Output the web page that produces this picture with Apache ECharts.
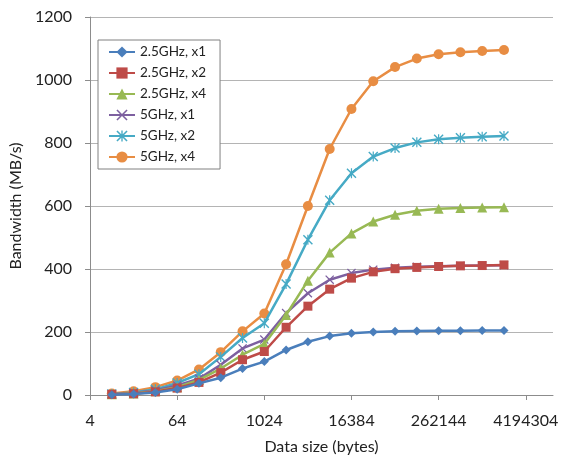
<!DOCTYPE html>
<html>
<head>
<meta charset="utf-8">
<script src="https://cdn.jsdelivr.net/npm/echarts@6/dist/echarts.min.js"></script>
<style>
  html, body { margin: 0; padding: 0; background: #ffffff; }
  #chart { width: 564px; height: 461px; }
</style>
</head>
<body>
<div id="chart"></div>
<script>
// data sizes in bytes (x), bandwidth in MB/s (y)
var sizes = [8, 16, 32, 64, 128, 256, 512, 1024, 2048, 4096, 8192, 16384, 32768,
  65536, 131072, 262144, 524288, 1048576, 2097152];
var tickSizes = [4, 64, 1024, 16384, 262144, 4194304];

var ghz25x1 = [1, 3, 8, 18, 37, 55, 84, 106, 143, 169, 187, 196, 200, 202, 203, 204, 204, 205, 205];
var ghz25x2 = [2, 4, 10, 22, 40, 71, 112, 138, 215, 282, 336, 371, 391, 401, 405, 408, 410, 411, 413];
var ghz25x4 = [2, 5, 12, 25, 48, 84, 128, 162, 254, 363, 452, 513, 551, 572, 585, 591, 594, 595, 596];
var ghz5x1 = [2, 6, 14, 30, 52, 96, 148, 176, 260, 323, 366, 387, 398, 404, 407, 409, 410, 411, 412];
var ghz5x2 = [3, 8, 18, 38, 66, 121, 181, 228, 352, 493, 618, 704, 757, 784, 802, 812, 817, 820, 822];
var ghz5x4 = [5, 12, 25, 46, 81, 136, 202, 259, 415, 600, 781, 908, 996, 1041, 1068, 1082, 1088, 1092, 1095];

var names = ['2.5GHz, x1', '2.5GHz, x2', '2.5GHz, x4', '5GHz, x1', '5GHz, x2', '5GHz, x4'];
var colors = ['#4A7EBB', '#BE4B48', '#98B954', '#7D60A0', '#46AAC5', '#E88D43'];

var crossPath = 'path://M0,1 L1,0 L5,4 L9,0 L10,1 L6,5 L10,9 L9,10 L5,6 L1,10 L0,9 L4,5 Z';
var starPath = 'path://M0,1 L1,0 L5,4 L9,0 L10,1 L6,5 L10,9 L9,10 L5,6 L1,10 L0,9 L4,5 Z M4.4,0 L5.6,0 L5.6,10 L4.4,10 Z';
var symbols = ['diamond', 'rect', 'triangle', crossPath, starPath, 'circle'];
var symbolSizes = [9, 9, 10, 9, 10, 10];
var allValues = [ghz25x1, ghz25x2, ghz25x4, ghz5x1, ghz5x2, ghz5x4];

var font = 'Lato, "Open Sans", sans-serif';
var chart = echarts.init(document.getElementById('chart'));

var series = [];
for (var i = 0; i < names.length; i++) {
  series.push({
    name: names[i],
    type: 'line',
    data: sizes.map(function (s, j) { return [Math.log2(s), allValues[i][j]]; }),
    symbol: symbols[i],
    symbolSize: symbolSizes[i],
    lineStyle: { width: 2.5, color: colors[i] },
    itemStyle: { color: colors[i] },
    z: 10 - i
  });
}

chart.setOption({
  animation: false,
  backgroundColor: '#ffffff',
  textStyle: { fontFamily: font },
  color: colors,
  grid: { left: 76, top: 17, right: 11, bottom: 66 },
  legend: {
    orient: 'vertical',
    left: 98,
    top: 40,
    data: names,
    itemWidth: 26,
    itemHeight: 14,
    itemGap: 7,
    padding: [5, 14, 5, 10],
    borderColor: '#808080',
    borderWidth: 1,
    backgroundColor: '#ffffff',
    textStyle: { fontFamily: font, fontSize: 13.5, color: '#222' }
  },
  xAxis: {
    type: 'value',
    min: 2,
    max: 23.25,
    name: 'Data size (bytes)',
    nameLocation: 'middle',
    nameGap: 44,
    nameTextStyle: { fontFamily: font, fontSize: 16, color: '#222' },
    axisLine: { lineStyle: { color: '#8c8c8c', width: 1 } },
    axisTick: {
      show: true, length: 5, inside: false,
      customValues: tickSizes.map(function (s) { return Math.log2(s); }),
      lineStyle: { color: '#8c8c8c' }
    },
    axisLabel: {
      customValues: tickSizes.map(function (s) { return Math.log2(s); }),
      formatter: function (v) { return String(Math.round(Math.pow(2, v))); },
      margin: 18,
      fontFamily: font, fontSize: 16, color: '#222'
    },
    splitLine: { show: false }
  },
  yAxis: {
    type: 'value',
    min: 0,
    max: 1200,
    interval: 200,
    name: 'Bandwidth (MB/s)',
    nameLocation: 'middle',
    nameGap: 45,
    nameTextStyle: { fontFamily: font, fontSize: 16, color: '#222' },
    axisLine: { show: true, lineStyle: { color: '#8c8c8c', width: 1 } },
    axisTick: { show: true, length: 5, lineStyle: { color: '#8c8c8c' } },
    axisLabel: {
      margin: 18, fontFamily: font, fontSize: 16, color: '#222',
      formatter: function (v) { return String(v); }
    },
    splitLine: { show: true, lineStyle: { color: '#b4b4b4', width: 1 } }
  },
  series: series
});
</script>
</body>
</html>
